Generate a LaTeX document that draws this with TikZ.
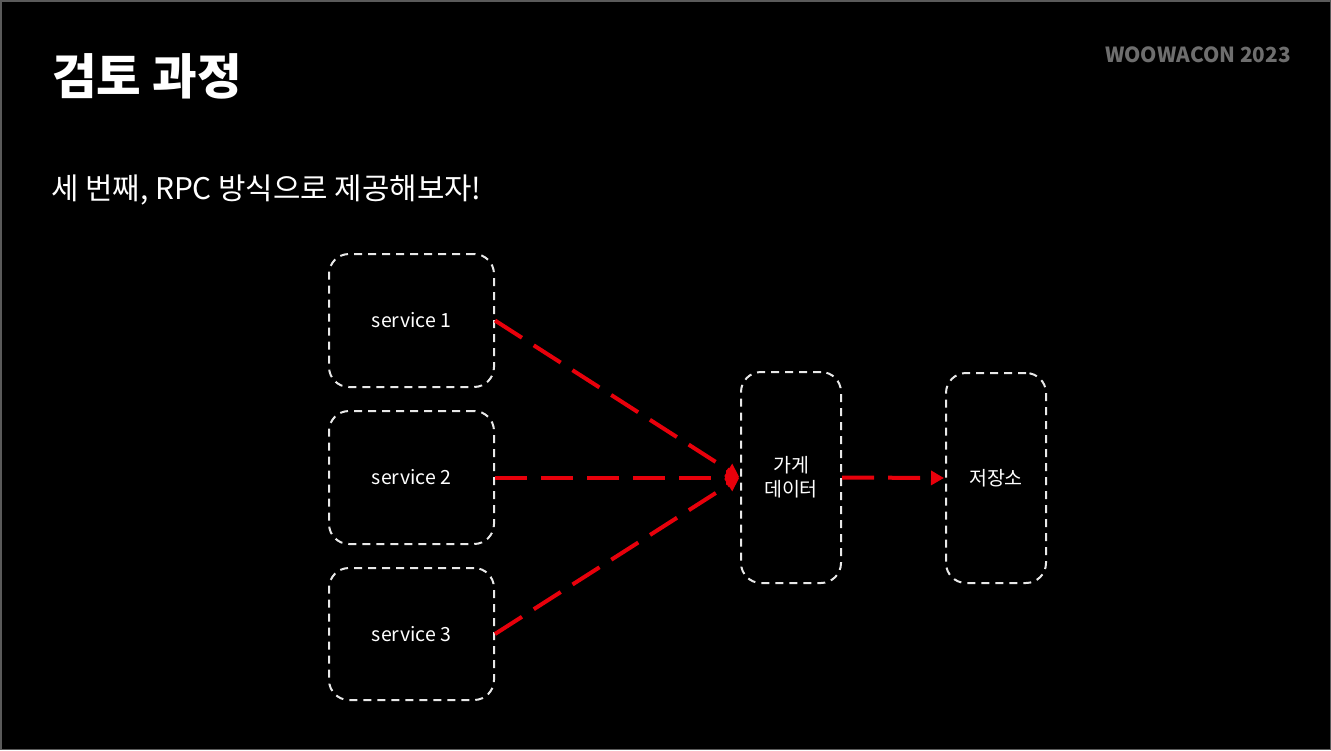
\documentclass[tikz,border=0pt]{standalone}
\usepackage{fontspec}
\setmainfont{Noto Sans CJK KR}
\usetikzlibrary{arrows.meta}
\definecolor{boxline}{HTML}{E8E8E8}
\definecolor{arrowred}{HTML}{E8000B}
\definecolor{logogray}{HTML}{6E6E6E}
\definecolor{framegray}{HTML}{5A5A5A}
\tikzset{
  box/.style={draw=boxline, line width=2pt, dash pattern=on 8pt off 6pt, rounded corners=20pt,
    text=white, font=\fontsize{19.5}{24}\selectfont, align=center, inner sep=0pt},
  flow/.style={draw=arrowred, line width=4pt, dash pattern=on 32pt off 14pt,
    -{Triangle[length=13pt,width=14pt]}, shorten >=1pt},
}
\begin{document}
\begin{tikzpicture}[x=1pt,y=-1pt]
  \fill[black] (0,0) rectangle (1331,750);
  \draw[framegray, line width=1.5pt] (0.75,0.75) rectangle (1330.25,749.25);
  \useasboundingbox (0,0) rectangle (1331,750);

  \node[anchor=west, text=white, inner sep=0pt, font=\fontsize{48.5}{54}\selectfont\bfseries] (title) at (52,76) {검토 과정};
  \node[anchor=west, text=white, inner sep=0pt, font=\fontsize{29.8}{34}\selectfont] (sub) at (51,190) {세 번째, RPC 방식으로 제공해보자!};
  \node[anchor=east, text=logogray, inner sep=0pt, font=\fontsize{20.8}{24}\selectfont\bfseries] (logo) at (1291,54.5) {WOOWACON 2023};

  \node[box, minimum width=165pt, minimum height=133pt] (s1) at (411.5,320.5) {service 1};
  \node[box, minimum width=165pt, minimum height=133pt] (s2) at (411.5,477.5) {service 2};
  \node[box, minimum width=165pt, minimum height=132pt] (s3) at (411.5,634) {service 3};
  \node[box, minimum width=100pt, minimum height=211pt] (data) at (791,477.5) {가게\\데이터};
  \node[box, minimum width=100pt, minimum height=210pt] (store) at (996,478) {저장소};

  \draw[flow] (s1.east) -- (data.west);
  \draw[flow] (s2.east) -- (data.west);
  \draw[flow] (s3.east) -- (data.west);
  \draw[flow] (data.east) -- (store.west);
\end{tikzpicture}
\end{document}
